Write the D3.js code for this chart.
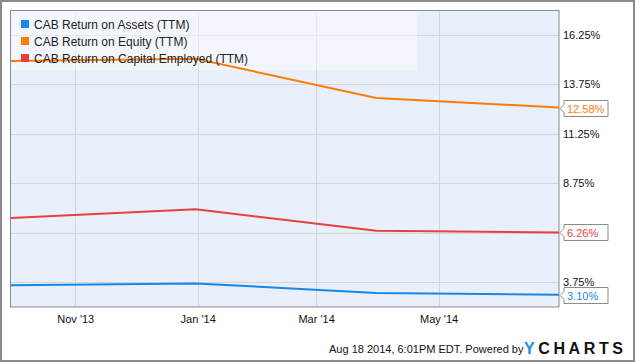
<!DOCTYPE html>
<html>
<head>
<meta charset="utf-8">
<script src="https://cdn.jsdelivr.net/npm/d3@7"></script>
<style>
  html, body { margin: 0; padding: 0; background: #fff; }
  svg { display: block; font-family: "Liberation Sans", Arial, sans-serif; }
</style>
</head>
<body>
<svg id="chart" width="635" height="362"></svg>
<script>
// quarter-end dates and TTM values (%)
const dates = ["2013-09-30", "2013-12-31", "2014-03-31", "2014-06-30"]
const roa = [3.58, 3.68, 3.19, 3.10]
const roe = [14.93, 15.05, 13.06, 12.58]
const roce = [6.99, 7.43, 6.35, 6.26]
const seriesNames = [
  "CAB Return on Assets (TTM)",
  "CAB Return on Equity (TTM)",
  "CAB Return on Capital Employed (TTM)"
]
const yTicks = [3.75, 6.25, 8.75, 11.25, 13.75, 16.25]
const xTicks = ["2013-11-01", "2014-01-01", "2014-03-01", "2014-05-01"]

const colors = ["#1588ea", "#fb7d07", "#e8403f"]
const width = 635, height = 362
const plotLeft = 11, plotRight = 559, plotTop = 10, plotBottom = 307

const parse = d3.utcParse("%Y-%m-%d")
const svg = d3.select("#chart")

const x = d3.scaleUtc([parse("2013-09-30"), parse("2014-06-30")], [plotLeft, plotRight])
const y = d3.scaleLinear([2.485, 17.515], [plotBottom, plotTop])

// outer frame
svg.append("rect")
  .attr("x", 1).attr("y", 1).attr("width", width - 2).attr("height", height - 2)
  .attr("fill", "#fff").attr("stroke", "#8a8a8a").attr("stroke-width", 2)

// plot background
svg.append("rect")
  .attr("x", plotLeft).attr("y", plotTop).attr("width", plotRight - plotLeft).attr("height", plotBottom - plotTop)
  .attr("fill", "#eaf0fb")

// grid
svg.append("g").selectAll("line").data(yTicks).join("line")
  .attr("x1", plotLeft).attr("x2", plotRight)
  .attr("y1", d => Math.round(y(d)) + 0.5).attr("y2", d => Math.round(y(d)) + 0.5)
  .attr("stroke", "#d6d6d6")
svg.append("g").selectAll("line").data(xTicks).join("line")
  .attr("x1", d => Math.round(x(parse(d))) + 0.5).attr("x2", d => Math.round(x(parse(d))) + 0.5)
  .attr("y1", plotTop).attr("y2", plotBottom)
  .attr("stroke", "#d6d6d6")

// legend backdrop
svg.append("rect")
  .attr("x", plotLeft).attr("y", plotTop).attr("width", 406).attr("height", 60)
  .attr("fill", "#ffffff").attr("opacity", 0.45)

// lines
const line = d3.line()
  .x((d, i) => x(parse(dates[i])))
  .y(d => y(d))
const allSeries = [roa, roe, roce]
svg.append("g").selectAll("path").data(allSeries).join("path")
  .attr("d", d => line(d))
  .attr("fill", "none")
  .attr("stroke", (d, i) => colors[i])
  .attr("stroke-width", 2)

// plot border
svg.append("rect")
  .attr("x", plotLeft - 0.5).attr("y", plotTop + 0.5)
  .attr("width", plotRight - plotLeft + 0.5).attr("height", plotBottom - plotTop - 0.5)
  .attr("fill", "none").attr("stroke", "#8a8a8a")

// legend
const legend = svg.append("g").selectAll("g").data(seriesNames).join("g")
  .attr("transform", (d, i) => `translate(21, ${20 + i * 17})`)
legend.append("rect")
  .attr("width", 8).attr("height", 8)
  .attr("fill", (d, i) => colors[i])
legend.append("text")
  .attr("x", 13).attr("y", 8.5)
  .attr("font-size", 12).attr("fill", "#222")
  .text(d => d)

// y axis labels (a label hidden under an end flag is left out, as in the original)
const lastVals = allSeries.map(s => s[s.length - 1])
const covered = d => lastVals.some(v => Math.abs(y(v) - y(d)) < 12)
const yAxis = d3.axisRight(y).tickValues(yTicks.filter(d => !covered(d)))
  .tickSize(0).tickPadding(4)
  .tickFormat(d => d.toFixed(2) + "%")
svg.append("g")
  .attr("transform", `translate(${plotRight}, 0)`)
  .call(yAxis)
  .call(g => g.select(".domain").remove())
  .call(g => g.selectAll("text").attr("font-size", 11).attr("fill", "#111")
    .attr("font-family", "Liberation Sans, Arial, sans-serif"))

// x axis labels
const xAxis = d3.axisBottom(x).tickValues(xTicks.map(parse)).tickSize(0).tickPadding(8)
  .tickFormat(d3.utcFormat("%b '%y"))
svg.append("g")
  .attr("transform", `translate(0, ${plotBottom})`)
  .call(xAxis)
  .call(g => g.select(".domain").remove())
  .call(g => g.selectAll("text").attr("font-size", 11).attr("fill", "#111")
    .attr("font-family", "Liberation Sans, Arial, sans-serif"))

// end-value flags
const flags = svg.append("g").selectAll("g").data(lastVals).join("g")
  .attr("transform", d => `translate(${plotRight + 1}, ${Math.round(y(d)) + 0.5})`)
flags.append("path")
  .attr("d", "M0,0 L4,-4 L4,-8 L48,-8 L48,8 L4,8 L4,4 Z")
  .attr("fill", "#fff").attr("stroke", "#8a8a8a")
flags.append("text")
  .attr("x", 7).attr("y", 4)
  .attr("font-size", 11)
  .attr("fill", (d, i) => colors[i])
  .text(d => d.toFixed(2) + "%")

// footer
svg.append("text")
  .attr("x", 329).attr("y", 353)
  .attr("font-size", 11).attr("fill", "#111")
  .text("Aug 18 2014, 6:01PM EDT.  Powered by")
const logo = svg.append("text")
  .attr("x", 524).attr("y", 354)
  .attr("font-size", 16).attr("font-weight", "bold")
  .attr("letter-spacing", 3.6)
logo.append("tspan").attr("fill", "#1a8fd8").text("Y")
logo.append("tspan").attr("fill", "#111").text("CHARTS")
</script>
</body>
</html>
